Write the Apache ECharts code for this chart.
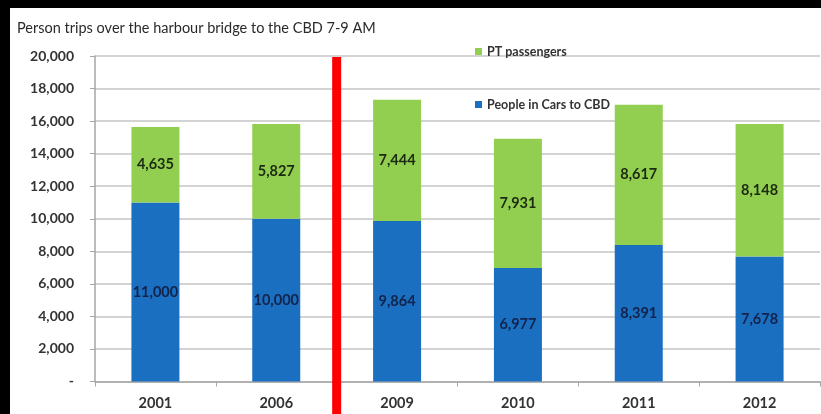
<!DOCTYPE html>
<html>
<head>
<meta charset="utf-8">
<script src="https://cdn.jsdelivr.net/npm/echarts@6.0.0/dist/echarts.min.js"></script>
<style>
html,body{margin:0;padding:0;background:#000;}
#frame{position:absolute;left:10px;top:8px;width:811px;height:406px;background:#fff;}
#chart{position:absolute;left:0;top:0;width:821px;height:414px;}
</style>
</head>
<body>
<div id="frame"></div>
<div id="chart"></div>
<script>
const title = 'Person trips over the harbour bridge to the CBD 7-9 AM';
const years = ['2001', '2006', '2009', '2010', '2011', '2012'];
const carsName = 'People in Cars to CBD';
const ptName = 'PT passengers';
const cars = [11000, 10000, 9864, 6977, 8391, 7678];
const pt = [4635, 5827, 7444, 7931, 8617, 8148];
const yTicks = [0, 2000, 4000, 6000, 8000, 10000, 12000, 14000, 16000, 18000, 20000];

const FONT = 'Lato, "Open Sans", sans-serif';
const fmt = v => v === 0 ? '-' : v.toLocaleString('en-US');

const chart = echarts.init(document.getElementById('chart'), null, {renderer: 'canvas'});
const option = {
  backgroundColor: 'transparent',
  animation: false,
  title: {
    text: title, left: 12, top: 16,
    textStyle: {fontFamily: FONT, fontSize: 14.5, fontWeight: 'normal', color: '#2a2a2a'}
  },
  legend: [
    {data: [ptName], left: 470, top: 40, icon: 'rect', itemWidth: 7, itemHeight: 7, itemGap: 4,
     textStyle: {fontFamily: FONT, fontSize: 12.5, fontWeight: 'bold', color: '#333'}},
    {data: [carsName], left: 470, top: 93, icon: 'rect', itemWidth: 7, itemHeight: 7, itemGap: 4,
     textStyle: {fontFamily: FONT, fontSize: 12.5, fontWeight: 'bold', color: '#333'}}
  ],
  grid: {left: 95, right: 1, top: 56, bottom: 32.5, containLabel: false},
  xAxis: {
    type: 'category', data: years,
    axisLine: {lineStyle: {color: '#a6a6a6', width: 1.5}},
    axisTick: {show: true, length: 5, inside: false, lineStyle: {color: '#a6a6a6'}},
    axisLabel: {fontFamily: FONT, fontSize: 14.5, fontWeight: 'bold', color: '#333', margin: 14}
  },
  yAxis: {
    type: 'value', min: yTicks[0], max: yTicks[yTicks.length - 1], interval: yTicks[1] - yTicks[0],
    axisLine: {show: true, lineStyle: {color: '#a6a6a6', width: 1.5}},
    axisTick: {show: true, length: 5, lineStyle: {color: '#a6a6a6'}},
    splitLine: {lineStyle: {color: '#c4c4c4', width: 1.5}},
    axisLabel: {fontFamily: FONT, fontSize: 14, fontWeight: 'bold', color: '#333', margin: 21, formatter: fmt}
  },
  series: [
    {name: carsName, type: 'bar', stack: 'total', data: cars, barWidth: 48,
     itemStyle: {color: '#1a6fc1'},
     label: {show: true, position: 'inside', formatter: p => fmt(p.value),
             fontFamily: FONT, fontSize: 14.5, fontWeight: 'bold', color: '#13234a'}},
    {name: ptName, type: 'bar', stack: 'total', data: pt, barWidth: 48,
     itemStyle: {color: '#92cf50'},
     label: {show: true, position: 'inside', formatter: p => fmt(p.value),
             fontFamily: FONT, fontSize: 14.5, fontWeight: 'bold', color: '#1c2a12'}}
  ]
};
chart.setOption(option);
// red divider between the 2006 and 2009 categories
const xa = chart.convertToPixel({xAxisIndex: 0}, years[1]);
const xb = chart.convertToPixel({xAxisIndex: 0}, years[2]);
const topY = chart.convertToPixel({yAxisIndex: 0}, yTicks[yTicks.length - 1]);
chart.setOption({
  graphic: [{type: 'rect', shape: {x: (xa + xb) / 2 - 4.5, y: topY + 1, width: 9, height: 414 - topY}, style: {fill: '#ff0000'}, z: 100}]
});
</script>
</body>
</html>
